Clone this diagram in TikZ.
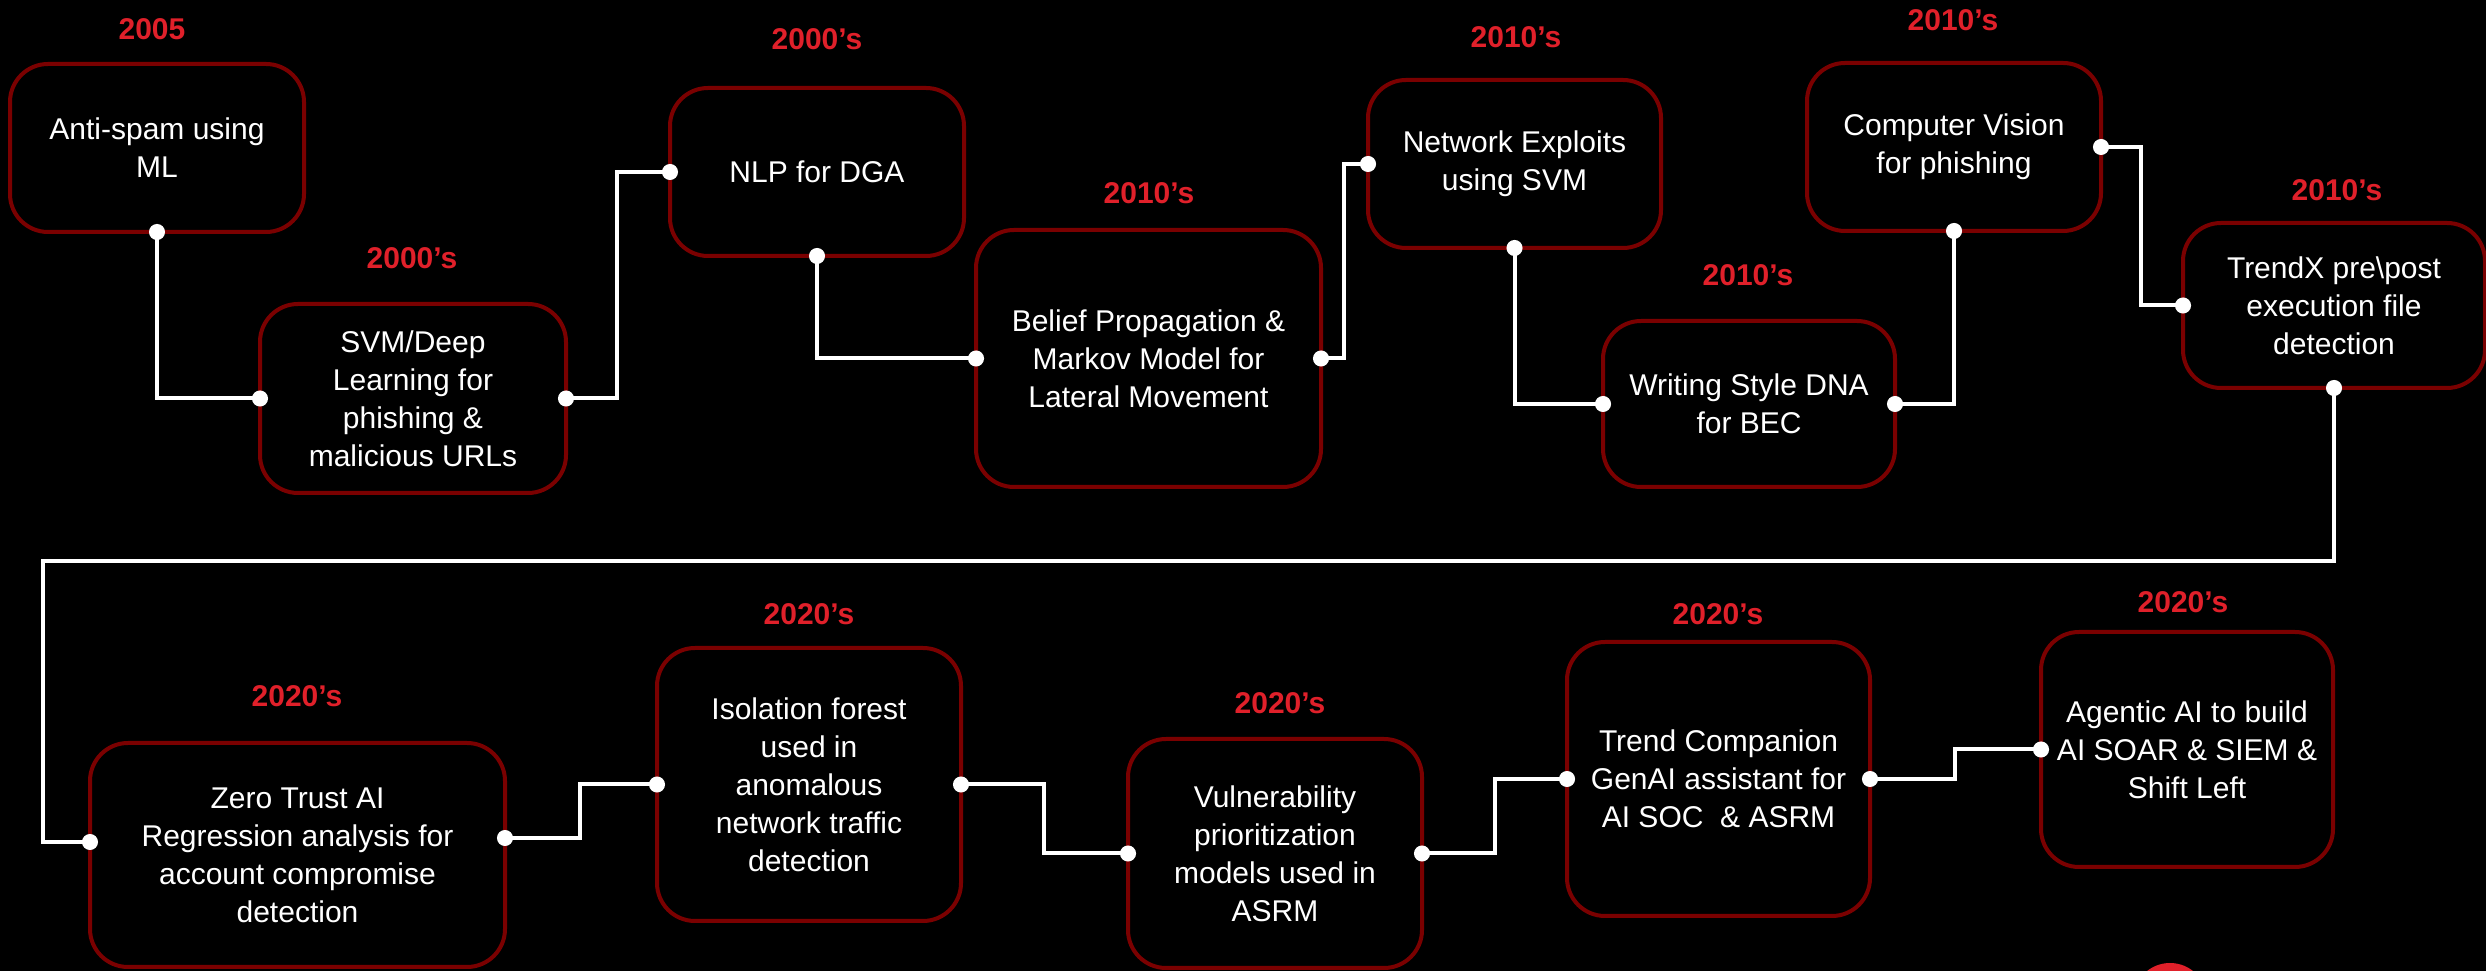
\documentclass[tikz,border=0pt]{standalone}
\usepackage{fontspec}
\setmainfont{Liberation Sans}
\usepackage{xcolor}
\usetikzlibrary{positioning,calc,arrows.meta}
\definecolor{boxred}{HTML}{7A0000}
\definecolor{yearred}{HTML}{E0202A}

\begin{document}
\begin{tikzpicture}[x=1pt, y=1pt,
		era/.style={text=yearred, font=\fontsize{30}{36}\selectfont\bfseries},
		card/.style={draw=boxred, line width=4pt, rounded corners=38pt, outer sep=0pt, inner sep=0pt, align=center, text=white, font=\fontsize{30}{38}\selectfont},
		link/.style={draw=white, line width=4pt, {Circle[length=16pt]}-{Circle[length=16pt]}, shorten <=-8pt, shorten >=-8pt}]
			\useasboundingbox (0,0) rectangle (2486,971);
			\fill[black] (0,0) rectangle (2486,971);
			% logo edge at the bottom
			\fill[yearred] (2170,-29) circle (37);

			% first row
			\node[card, minimum width=294pt, minimum height=168pt] (anti) at (157,823) {Anti-spam using\\ML};
			\node[card, minimum width=306pt, minimum height=189pt] (svm) at (413,572.5) {SVM/Deep\\Learning for\\phishing \&\\malicious URLs};
			\node[card, minimum width=294pt, minimum height=168pt] (nlp) at (817,799) {NLP for DGA};
			\node[card, minimum width=345pt, minimum height=257pt] (belief) at (1148.5,612.5) {Belief Propagation \&\\Markov Model for\\Lateral Movement};
			\node[card, minimum width=293pt, minimum height=168pt] (netex) at (1514.5,807) {Network Exploits\\using SVM};
			\node[card, minimum width=292pt, minimum height=166pt] (dna) at (1749,567) {Writing Style DNA\\for BEC};
			\node[card, minimum width=294pt, minimum height=168pt] (vision) at (1954,824) {Computer Vision\\for phishing};
			\node[card, minimum width=302pt, minimum height=165pt] (trendx) at (2334,665.5) {TrendX pre\textbackslash post\\execution file\\detection};

			% second row
			\node[card, minimum width=415pt, minimum height=224pt] (zero) at (297.5,116) {Zero Trust AI\\Regression analysis for\\account compromise\\detection};
			\node[card, minimum width=304pt, minimum height=273pt] (iso) at (809,186.5) {Isolation forest\\used in\\anomalous\\network traffic\\detection};
			\node[card, minimum width=294pt, minimum height=229pt] (vuln) at (1275,117.5) {Vulnerability\\prioritization\\models used in\\ASRM};
			\node[card, minimum width=303pt, minimum height=274pt] (comp) at (1718.5,192) {Trend Companion\\GenAI assistant for\\AI SOC\ \ \& ASRM};
			\node[card, minimum width=292pt, minimum height=235pt] (agent) at (2187,221.5) {Agentic AI to build\\AI SOAR \& SIEM \&\\Shift Left};

			% years
			\node[era] (era-anti) at (152,942) {2005};
			\node[era] (era-svm) at (412,713) {2000’s};
			\node[era] (era-nlp) at (817,932) {2000’s};
			\node[era] (era-belief) at (1149,778) {2010’s};
			\node[era] (era-netex) at (1516,934) {2010’s};
			\node[era] (era-dna) at (1748,696) {2010’s};
			\node[era] (era-vision) at (1953,951) {2010’s};
			\node[era] (era-trendx) at (2337,781) {2010’s};
			\node[era] (era-zero) at (297,275) {2020’s};
			\node[era] (era-iso) at (809,357) {2020’s};
			\node[era] (era-vuln) at (1280,268) {2020’s};
			\node[era] (era-comp) at (1718,357) {2020’s};
			\node[era] (era-agent) at (2183,369) {2020’s};

			% connectors
			\coordinate (wrap) at (43,410);
			\draw[link] (anti.south) |- (svm.west);
			\draw[link] (svm.east) -- ++(51,0) |- (nlp.west);
			\draw[link] (nlp.south) |- (belief.west);
			\draw[link] (belief.east) -- ++(23,0) |- (netex.west);
			\draw[link] (netex.south) |- (dna.west);
			\draw[link] (dna.east) -| (vision.south);
			\draw[link] (vision.east) -- ++(40,0) |- (trendx.west);
			\draw[link] (trendx.south) |- (wrap) |- ($(zero.west)+(0,13)$);
			\draw[link] ($(zero.east)+(0,17)$) -- ++(75,0) |- (iso.west);
			\draw[link] (iso.east) -- ++(83,0) |- (vuln.west);
			\draw[link] (vuln.east) -- ++(73,0) |- (comp.west);
			\draw[link] (comp.east) -- ++(85,0) |- (agent.west);
		\end{tikzpicture}
\end{document}
